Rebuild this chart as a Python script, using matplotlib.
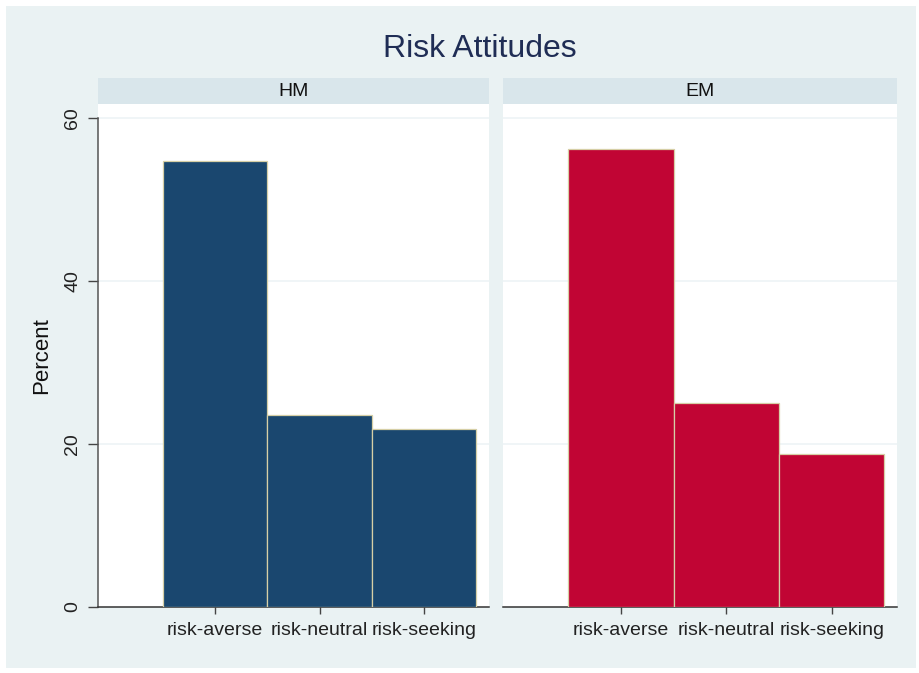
"""plot.py — Risk attitudes by group (HM vs EM), Stata-style facet histogram."""
import matplotlib

matplotlib.use("Agg")
import matplotlib.pyplot as plt
from matplotlib.patches import Rectangle

plt.rcParams["font.family"] = ["Liberation Sans", "DejaVu Sans"]

CATEGORIES = ["risk-averse", "risk-neutral", "risk-seeking"]
GROUPS = ["HM", "EM"]
HM_PERCENT = [54.7, 23.5, 21.8]
EM_PERCENT = [56.2, 25.0, 18.8]
Y_TICKS = [0, 20, 40, 60]

BG = "#eaf2f3"
STRIP = "#d9e6eb"
GRID = "#eef4f6"
COLORS = {"HM": "#1a476f", "EM": "#c10534"}
W, H = 920, 673


def fx(px):
    return px / W


def fy(py):
    return 1 - py / H


fig = plt.figure(figsize=(W / 100, H / 100), dpi=100, facecolor="white")
fig.patches.append(Rectangle((fx(6), fy(668)), fx(910), (668 - 6) / H,
                             transform=fig.transFigure, facecolor=BG,
                             edgecolor="none", zorder=-10))

fig.text(fx(480), fy(49), "Risk Attitudes", ha="center", va="center",
         fontsize=23, color="#1f2d55")

panels = [("HM", HM_PERCENT, 98, 489), ("EM", EM_PERCENT, 503, 897)]
x = [1, 2, 3]
for name, vals, x0, x1 in panels:
    ax = fig.add_axes([fx(x0), fy(607), fx(x1 - x0), (607 - 104) / H])
    ax.set_facecolor("white")
    ax.bar(x, vals, width=1.0, color=COLORS[name], edgecolor="#d6cfa6",
           linewidth=0.9, zorder=3)
    ax.set_xlim(-0.12, 3.62)
    ax.set_ylim(0, 61.7)
    for t in Y_TICKS[1:]:
        ax.axhline(t, color=GRID, linewidth=1.2, zorder=1)
    ax.set_xticks(x)
    ax.set_xticklabels(CATEGORIES, fontsize=14, color="#222222")
    ax.tick_params(axis="x", length=5, width=1, color="#444444", pad=6)
    for s in ["top", "right"]:
        ax.spines[s].set_visible(False)
    ax.spines["bottom"].set_color("#333333")
    ax.spines["bottom"].set_linewidth(1.1)
    if name == "HM":
        ax.set_yticks(Y_TICKS)
        ax.set_yticklabels([str(t) for t in Y_TICKS], rotation=90,
                           va="center", fontsize=14, color="#222222")
        ax.tick_params(axis="y", length=7, width=1, color="#444444", pad=5)
        ax.spines["left"].set_color("#555555")
        ax.spines["left"].set_linewidth(1.1)
        ax.spines["left"].set_bounds(0, 60)
        ax.set_ylabel("Percent", fontsize=16, color="#111111", labelpad=9)
    else:
        ax.spines["left"].set_visible(False)
        ax.set_yticks([])

    # panel header strip
    sx = fig.add_axes([fx(x0), fy(104), fx(x1 - x0), (104 - 78) / H])
    sx.set_facecolor(STRIP)
    sx.set_xticks([])
    sx.set_yticks([])
    for s in sx.spines.values():
        s.set_visible(False)
    sx.text(0.5, 0.5, name, ha="center", va="center", fontsize=14,
            color="#111111", transform=sx.transAxes)

fig.savefig("out.png", dpi=100, facecolor="white")
plt.close(fig)
